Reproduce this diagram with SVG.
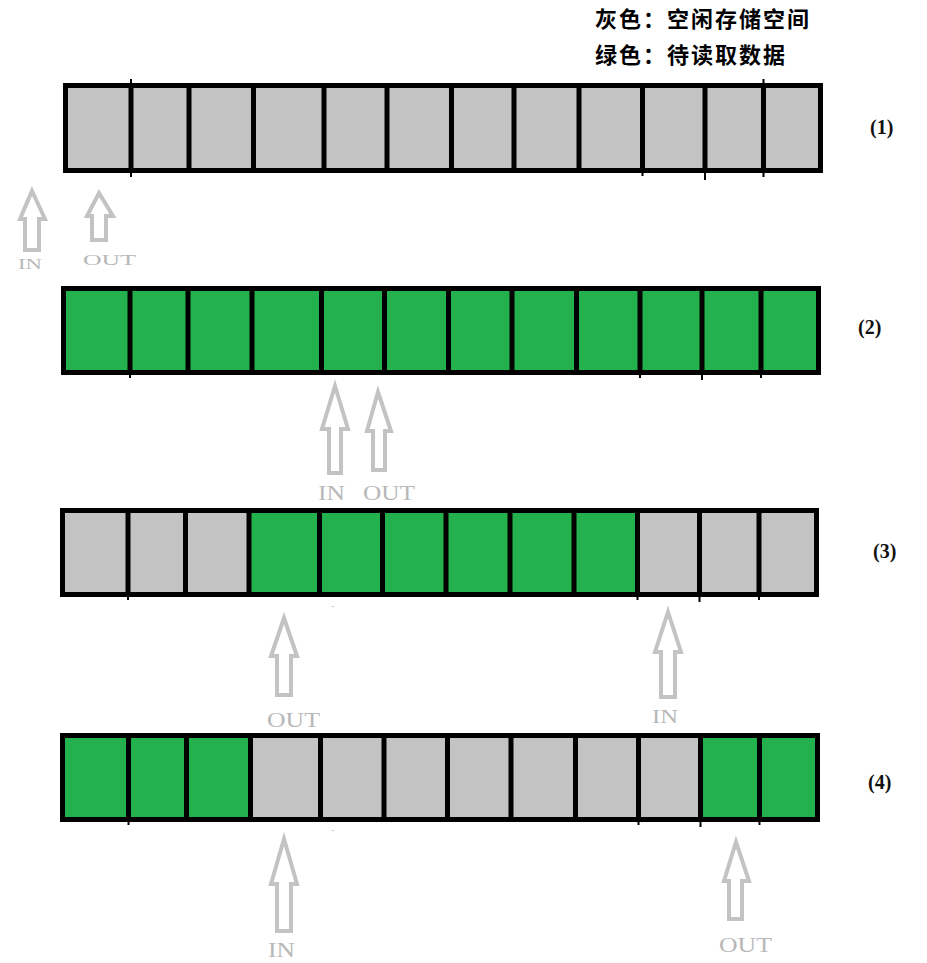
<svg xmlns="http://www.w3.org/2000/svg" width="927" height="963" viewBox="0 0 927 963">
<style>
.gray{fill:#c3c3c3}
.green{fill:#22b14c}
.border{fill:none;stroke:#000;stroke-width:5}
.div{stroke:#000;stroke-width:5}
.tick{stroke:#000;stroke-width:2}
.arrow{fill:#fff;stroke:#c3c3c3;stroke-width:4;stroke-linejoin:miter}
.lbl{font-family:"Liberation Serif","Times New Roman",serif;fill:#b8b8b8}
.num{font-family:"Liberation Serif","Times New Roman",serif;font-weight:bold;font-size:20px;fill:#111}
.legend{font-family:"Noto Sans CJK SC","Noto Sans",sans-serif;font-weight:bold;font-size:22px;fill:#000;letter-spacing:2px}
</style>
<rect width="927" height="963" fill="#fff"/>

<g id="legend">
<text class="legend" x="595" y="27">灰色：空闲存储空间</text>
<text class="legend" x="595" y="63">绿色：待读取数据</text>
</g>

<g id="row1">
<rect class="gray" x="63" y="83" width="760" height="90"/>
<g class="div">
<line x1="131" y1="83" x2="131" y2="173"/><line x1="189" y1="83" x2="189" y2="173"/><line x1="253.5" y1="83" x2="253.5" y2="173"/><line x1="324" y1="83" x2="324" y2="173"/><line x1="387" y1="83" x2="387" y2="173"/><line x1="451.5" y1="83" x2="451.5" y2="173"/><line x1="514" y1="83" x2="514" y2="173"/><line x1="579" y1="83" x2="579" y2="173"/><line x1="642.5" y1="83" x2="642.5" y2="173"/><line x1="705" y1="83" x2="705" y2="173"/><line x1="763.5" y1="83" x2="763.5" y2="173"/>
</g>
<rect class="border" x="65.5" y="85.5" width="755" height="85"/>
<g class="tick">
<line x1="131" y1="79" x2="131" y2="83"/><line x1="131" y1="173" x2="131" y2="177"/><line x1="642.5" y1="173" x2="642.5" y2="176"/><line x1="705" y1="173" x2="705" y2="180"/><line x1="763.5" y1="79" x2="763.5" y2="83"/><line x1="763.5" y1="173" x2="763.5" y2="177"/>
</g>
<text class="num" x="870" y="134">(1)</text>
</g>

<g id="row2">
<rect class="green" x="61" y="286" width="760" height="89"/>
<g class="div">
<line x1="130" y1="286" x2="130" y2="375"/><line x1="188" y1="286" x2="188" y2="375"/><line x1="252" y1="286" x2="252" y2="375"/><line x1="321.5" y1="286" x2="321.5" y2="375"/><line x1="384.5" y1="286" x2="384.5" y2="375"/><line x1="448.5" y1="286" x2="448.5" y2="375"/><line x1="512" y1="286" x2="512" y2="375"/><line x1="576.5" y1="286" x2="576.5" y2="375"/><line x1="640" y1="286" x2="640" y2="375"/><line x1="702" y1="286" x2="702" y2="375"/><line x1="761" y1="286" x2="761" y2="375"/>
</g>
<rect class="border" x="63.5" y="288.5" width="755" height="84"/>
<g class="tick">
<line x1="130" y1="375" x2="130" y2="378"/><line x1="640" y1="375" x2="640" y2="378"/><line x1="702" y1="375" x2="702" y2="380"/><line x1="761" y1="375" x2="761" y2="378"/>
</g>
<text class="num" x="858" y="334">(2)</text>
</g>

<g id="row3">
<rect class="gray" x="60" y="508" width="759" height="89"/>
<rect class="green" x="249" y="508" width="388.5" height="89"/>
<g class="div">
<line x1="128" y1="508" x2="128" y2="597"/><line x1="185.5" y1="508" x2="185.5" y2="597"/><line x1="249" y1="508" x2="249" y2="597"/><line x1="319.5" y1="508" x2="319.5" y2="597"/><line x1="382.5" y1="508" x2="382.5" y2="597"/><line x1="446" y1="508" x2="446" y2="597"/><line x1="510" y1="508" x2="510" y2="597"/><line x1="574" y1="508" x2="574" y2="597"/><line x1="637.5" y1="508" x2="637.5" y2="597"/><line x1="699.5" y1="508" x2="699.5" y2="597"/><line x1="759" y1="508" x2="759" y2="597"/>
</g>
<rect class="border" x="62.5" y="510.5" width="754" height="84"/>
<g class="tick">
<line x1="128" y1="597" x2="128" y2="600"/><line x1="637.5" y1="597" x2="637.5" y2="600"/><line x1="699.5" y1="597" x2="699.5" y2="602"/><line x1="759" y1="597" x2="759" y2="600"/>
</g>
<rect x="332" y="606" width="2" height="1" fill="#c3c3c3"/>
<text class="num" x="873" y="558">(3)</text>
</g>

<g id="row4">
<rect class="gray" x="60" y="733" width="760" height="89"/>
<rect class="green" x="60" y="733" width="190.5" height="89"/>
<rect class="green" x="700.5" y="733" width="119.5" height="89"/>
<g class="div">
<line x1="128.5" y1="733" x2="128.5" y2="822"/><line x1="186.5" y1="733" x2="186.5" y2="822"/><line x1="250.5" y1="733" x2="250.5" y2="822"/><line x1="320.5" y1="733" x2="320.5" y2="822"/><line x1="384" y1="733" x2="384" y2="822"/><line x1="447.5" y1="733" x2="447.5" y2="822"/><line x1="511" y1="733" x2="511" y2="822"/><line x1="575.5" y1="733" x2="575.5" y2="822"/><line x1="638.5" y1="733" x2="638.5" y2="822"/><line x1="700.5" y1="733" x2="700.5" y2="822"/><line x1="759.5" y1="733" x2="759.5" y2="822"/>
</g>
<rect class="border" x="62.5" y="735.5" width="755" height="84"/>
<g class="tick">
<line x1="128.5" y1="822" x2="128.5" y2="825"/><line x1="638.5" y1="822" x2="638.5" y2="825"/><line x1="700.5" y1="822" x2="700.5" y2="827"/><line x1="759.5" y1="822" x2="759.5" y2="825"/>
</g>
<rect x="332" y="830" width="2" height="1" fill="#c3c3c3"/>
<text class="num" x="868" y="789">(4)</text>
</g>

<g id="connectors">
<g id="arrow-in-1">
<polygon class="arrow" points="32,191 45,219 39,219 39,250 25,250 25,219 20,219"/>
<text class="lbl" x="18" y="269" font-size="14" textLength="24" lengthAdjust="spacingAndGlyphs">IN</text>
</g>
<g id="arrow-out-1">
<polygon class="arrow" points="99,193 113,216 106,216 106,240 92,240 92,216 87,216"/>
<text class="lbl" x="83" y="265" font-size="15" textLength="53" lengthAdjust="spacingAndGlyphs">OUT</text>
</g>
<g id="arrow-in-2">
<polygon class="arrow" points="335,386 348,429 341,429 341,473 329,473 329,429 322,429"/>
<text class="lbl" x="318" y="500" font-size="20" textLength="27" lengthAdjust="spacingAndGlyphs">IN</text>
</g>
<g id="arrow-out-2">
<polygon class="arrow" points="378,392 391,431 385,431 385,470 373,470 373,431 367,431"/>
<text class="lbl" x="363" y="500" font-size="20" textLength="52" lengthAdjust="spacingAndGlyphs">OUT</text>
</g>
<g id="arrow-out-3">
<polygon class="arrow" points="284,618 297,656 291,656 291,695 277,695 277,656 271,656"/>
<text class="lbl" x="267" y="727" font-size="21" textLength="53" lengthAdjust="spacingAndGlyphs">OUT</text>
</g>
<g id="arrow-in-3">
<polygon class="arrow" points="668,612 681,652 675,652 675,697 661,697 661,652 655,652"/>
<text class="lbl" x="652" y="723" font-size="19" textLength="26" lengthAdjust="spacingAndGlyphs">IN</text>
</g>
<g id="arrow-in-4">
<polygon class="arrow" points="284,839 297,884 291,884 291,931 277,931 277,884 271,884"/>
<text class="lbl" x="268" y="957" font-size="21" textLength="27" lengthAdjust="spacingAndGlyphs">IN</text>
</g>
<g id="arrow-out-4">
<polygon class="arrow" points="736,842 749,881 742,881 742,919 729,919 729,881 724,881"/>
<text class="lbl" x="719" y="952" font-size="21" textLength="53" lengthAdjust="spacingAndGlyphs">OUT</text>
</g>
</g>
</svg>
